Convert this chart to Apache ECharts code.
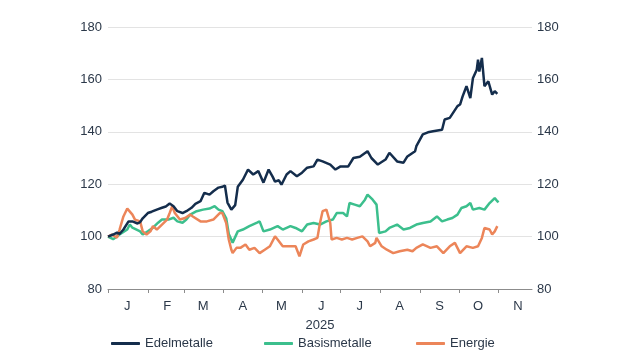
<!DOCTYPE html>
<html>
<head>
<meta charset="utf-8">
<script src="https://cdn.jsdelivr.net/npm/echarts@6/dist/echarts.min.js"></script>
<style>html,body{margin:0;padding:0;background:#fff;}#c{width:640px;height:360px;}</style>
</head>
<body>
<div id="c"></div>
<script>
// Axis: calendar days of 2025 from Jan 1 (day 0) to Nov 27 (day 330)
const startDate = '2025-01-01';
const dayCount = 331;
const monthLetters = ['J','F','M','A','M','J','J','A','S','O','N','D'];
const yTicks = [80, 100, 120, 140, 160, 180];
const axisYearName = '2025';
const seriesNames = ['Edelmetalle', 'Basismetalle', 'Energie'];

// Edelmetalle (day of year offset, index value)
const edelDays = [0,4,7,9,12,16,19,23,25,27,31,34,38,42,45,48,51,54,58,61,65,68,72,75,79,82,86,89,91,93,96,99,101,105,109,113,117,121,125,128,130,133,135,139,142,147,151,155,160,163,167,173,177,181,187,191,196,202,205,210,216,219,225,230,233,239,240,245,249,253,260,262,266,272,274,276,279,282,284,287,288,289,291,293,296,299,301,303];
const edelValues = [100,100.8,101.5,101,102.7,105.8,105.8,105,105.5,107,109,109.5,110.3,111,111.5,112.6,111.6,109.7,109,109.7,111,112.5,113.5,116.7,116,117.3,118.7,119,119.5,113,110.3,112,119,121.7,125.6,123.7,125,120.6,125.6,123,121,121.5,119.8,123.7,125,123,124.4,126.3,126.8,129.4,128.7,127.5,125.6,126.8,126.8,130,130.5,132.6,130,127.5,129.4,132,128.7,128.2,130.6,132.6,134.5,139,139.8,140.2,140.8,144.7,145.3,149.8,150.4,153.5,157.4,152.9,160.4,163.7,167.5,163,168.2,157.4,159.3,154.2,155.5,154.5];

// Basismetalle
const basisDays = [0,4,9,15,17,19,25,27,31,35,39,42,47,51,54,58,61,64,69,74,79,83,86,89,92,94,97,101,105,110,116,118,121,126,132,136,142,146,151,155,160,165,170,175,178,183,186,188,192,196,200,202,206,209,211,216,219,225,230,235,240,245,251,256,260,264,268,272,275,279,282,284,289,293,297,301,303,304];
const basisValues = [100,99,100.8,102.7,104.6,103.4,102,100.8,102,103.4,105.3,106.5,106.5,107.2,105.8,105.3,106.5,108.4,109.7,110.3,110.7,111.6,110.3,109.7,107,101,97.7,102,102.7,104,105.3,105.8,102,102.7,104,102.7,104,103.3,102,104.6,105.2,104.6,105.8,106.5,109,109,107.7,112.8,112.2,111.6,114.1,116,114.1,112.2,101.4,102,103.3,104.6,102.7,103.3,104.6,105.2,105.8,107.7,105.8,106.5,107.1,108.4,110.9,111.6,112.8,110.3,110.9,110.3,112.8,114.7,113.5,113.1];

// Energie
const energyDays = [0,3,7,9,12,15,16,19,21,25,27,30,33,35,38,42,46,48,50,52,56,60,64,66,72,77,82,87,89,92,94,96,97,100,103,107,110,114,118,122,126,130,132,136,142,146,149,152,156,160,163,165,167,170,173,174,178,182,186,190,194,198,202,204,208,209,213,217,222,227,233,237,240,245,251,256,261,266,270,274,279,284,288,291,293,297,299,301,303];
const energyValues = [100,100.8,99.6,102.7,107.7,110.7,111,108.4,106.5,105.8,102,100.8,102,104,102.7,104.6,106.5,109,111.6,109,106.5,107.1,108.4,107.7,105.8,105.8,106.5,109,109,105.2,98.9,95,93.7,95.7,95.7,97,95,95.7,93.7,95,96.3,100.1,98.9,96.3,96.3,96.3,92.5,97,98.2,98.9,99.5,105.2,109.7,110.3,105.2,98.9,99.5,98.9,99.5,98.9,99.5,100.1,98.2,96.3,97.6,99.5,96.3,95,93.7,94.4,95,94.4,95.7,97,95.7,96.3,93.7,96.3,97.6,93.7,96.3,95.7,96.3,99.5,103.3,102.7,100.8,102,104];

const colors = ['#142d4c', '#3cbf8d', '#ec8559'];

function pad(n){return n<10?'0'+n:''+n;}
const categories = [];
const base = new Date(startDate + 'T00:00:00Z');
for (let i = 0; i < dayCount; i++) {
  const d = new Date(base.getTime() + i * 86400000);
  categories.push(d.getUTCFullYear() + '-' + pad(d.getUTCMonth()+1) + '-' + pad(d.getUTCDate()));
}
function pairs(days, vals){ return days.map((d,i)=>[d, vals[i]]); }

const textColor = '#2b3849';
const font = 'Liberation Sans, Arial, sans-serif';
const legendLefts = [106, 259, 411];

const chart = echarts.init(document.getElementById('c'), null, {renderer:'canvas'});
chart.setOption({
  animation: false,
  textStyle: {fontFamily: font},
  grid: {left: 108, right: 108, top: 27, bottom: 71, containLabel: false},
  legend: seriesNames.map((n, i) => ({
    data: [n],
    left: legendLefts[i], top: 332, padding: 5,
    icon: 'roundRect', itemWidth: 29, itemHeight: 3,
    textStyle: {color: textColor, fontSize: 13, fontFamily: font}
  })),
  xAxis: {
    type: 'category',
    data: categories,
    boundaryGap: false,
    name: axisYearName,
    nameLocation: 'middle',
    nameGap: 30,
    nameTextStyle: {color: textColor, fontSize: 13, fontFamily: font},
    axisLine: {show: true, lineStyle: {color: '#8c8c8c', width: 1}},
    axisTick: {show: true, length: 4, lineStyle: {color: '#8c8c8c'},
      interval: function(idx, val){ return val.slice(8) === '01'; }},
    axisLabel: {color: textColor, fontSize: 13, margin: 11,
      interval: function(idx, val){ return val.slice(8) === '16'; },
      formatter: function(val){ return monthLetters[parseInt(val.slice(5,7),10)-1]; }},
    splitLine: {show: false}
  },
  yAxis: [
    {type: 'value', min: yTicks[0], max: yTicks[yTicks.length-1], interval: 20, position: 'left',
     axisLine: {show: false}, axisTick: {show: false},
     axisLabel: {color: textColor, fontSize: 13, margin: 6},
     splitLine: {show: true, lineStyle: {color: '#e3e3e3', width: 1}}},
    {type: 'value', min: yTicks[0], max: yTicks[yTicks.length-1], interval: 20, position: 'right',
     axisLine: {show: false}, axisTick: {show: false},
     axisLabel: {color: textColor, fontSize: 13, margin: 5},
     splitLine: {show: false}}
  ],
  series: [
    {name: seriesNames[0], type: 'line', data: pairs(edelDays, edelValues), showSymbol: false, symbol: 'none',
     lineStyle: {color: colors[0], width: 2.5}, itemStyle: {color: colors[0]}, z: 5},
    {name: seriesNames[1], type: 'line', data: pairs(basisDays, basisValues), showSymbol: false, symbol: 'none',
     lineStyle: {color: colors[1], width: 2.5}, itemStyle: {color: colors[1]}, z: 3},
    {name: seriesNames[2], type: 'line', data: pairs(energyDays, energyValues), showSymbol: false, symbol: 'none',
     lineStyle: {color: colors[2], width: 2.5}, itemStyle: {color: colors[2]}, z: 4}
  ]
});
</script>
</body>
</html>
